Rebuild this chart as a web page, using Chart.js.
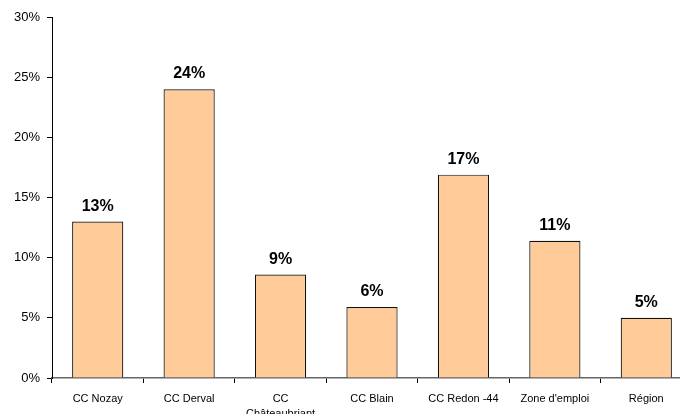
<!DOCTYPE html>
<html>
<head>
<meta charset="utf-8">
<script src="https://cdn.jsdelivr.net/npm/chart.js@4/dist/chart.umd.min.js"></script>
<style>
  html, body { margin: 0; padding: 0; background: #fff; overflow: hidden; }
  #box { width: 700px; height: 414px; }
</style>
</head>
<body>
<div id="box"><canvas id="myChart"></canvas></div>
<script>
// territories and share (%)
let territories = ["CC Nozay", "CC Derval", ["CC", "Châteaubriant"], "CC Blain", "CC Redon -44", "Zone d'emploi", "Région"];
let shares = [13, 24, 8.6, 5.9, 16.9, 11.4, 5.0];
let yTicks = [0, 5, 10, 15, 20, 25, 30];

Chart.defaults.font.family = "'Liberation Sans', Arial, sans-serif";
Chart.defaults.color = "#000";

// value written above each bar
const barLabels = {
	id: "barLabels",
	afterDatasetsDraw(chart) {
		let ctx = chart.ctx;
		let meta = chart.getDatasetMeta(0);
		ctx.save();
		ctx.font = "bold 16px 'Liberation Sans', Arial, sans-serif";
		ctx.fillStyle = "#000";
		ctx.textAlign = "center";
		ctx.textBaseline = "alphabetic";
		meta.data.forEach((bar, i) => {
			ctx.fillText(Math.round(shares[i]) + "%", bar.x, bar.y - 11);
		});
		ctx.restore();
	},
};

let ctx = document.getElementById("myChart").getContext("2d");
let myChart = new Chart(ctx, {
	type: "bar",
	data: {
		labels: territories,
		datasets: [
			{
				data: shares,
				backgroundColor: "#FFCC99",
				borderColor: "#111",
				borderWidth: 1.2,
				borderSkipped: "bottom",
				barPercentage: 0.56,
				categoryPercentage: 1,
			},
		],
	},
	options: {
		responsive: true,
		maintainAspectRatio: false,
		animation: false,
		layout: { padding: { top: 17, right: 8, left: 0, bottom: 0 } },
		plugins: {
			legend: { display: false },
			tooltip: { enabled: false },
		},
		scales: {
			x: {
				grid: {
					display: true,
					drawOnChartArea: false,
					drawTicks: true,
					tickLength: 5,
					color: "#000",
					offset: true,
				},
				border: { display: true, color: "#666", width: 1.5 },
				ticks: {
					font: { size: 11, lineHeight: 1.4 },
					padding: 8,
					maxRotation: 0,
					autoSkip: false,
				},
				afterFit(scale) {
					scale.height = 36;
				},
			},
			y: {
				min: 0,
				max: 30,
				afterBuildTicks(scale) {
					scale.ticks = yTicks.map((v) => ({ value: v }));
				},
				grid: {
					display: true,
					drawOnChartArea: false,
					drawTicks: true,
					tickLength: 5,
					color: "#000",
				},
				border: { display: true, color: "#000", width: 1 },
				ticks: {
					font: { size: 13 },
					padding: 7,
					callback: (v) => v + "%",
				},
				afterFit(scale) {
					scale.width = 52;
				},
			},
		},
	},
	plugins: [barLabels],
});
</script>
</body>
</html>
